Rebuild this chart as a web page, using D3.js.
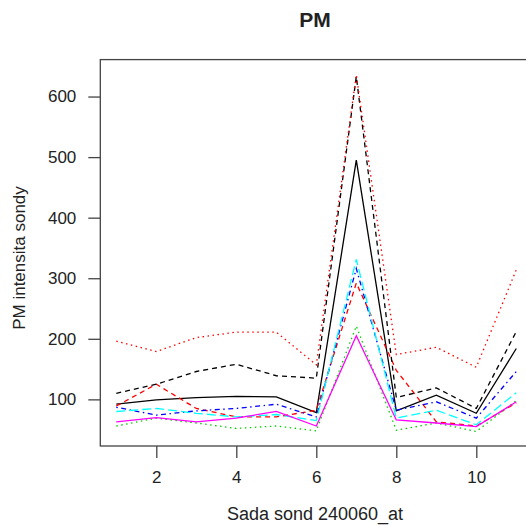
<!DOCTYPE html>
<html>
<head>
<meta charset="utf-8">
<script src="https://cdn.jsdelivr.net/npm/d3@7"></script>
<style>
  html, body { margin: 0; padding: 0; background: #fff; }
  svg text { font-family: "Liberation Sans", Arial, sans-serif; fill: #222; }
</style>
</head>
<body>
<svg id="chart" width="526" height="525"></svg>
<script>
const xValues = [1, 2, 3, 4, 5, 6, 7, 8, 9, 10, 11];
const s1 = [92, 99, 103, 105, 104, 78, 495, 81, 107, 77, 184];
const s2 = [89, 125, 85, 71, 71, 82, 292, 148, 63, 56, 94];
const s3 = [56, 69, 61, 52, 56, 48, 221, 49, 61, 47, 98];
const s4 = [87, 74, 81, 85, 92, 71, 316, 82, 96, 69, 146];
const s5 = [80, 85, 77, 71, 75, 65, 331, 69, 82, 58, 111];
const s6 = [63, 70, 63, 69, 80, 56, 205, 66, 61, 55, 96];
const s7 = [110, 125, 146, 158, 139, 135, 633, 103, 119, 85, 212];
const s8 = [196, 179, 202, 211, 211, 157, 636, 174, 186, 153, 314];
const seriesList = [s1, s2, s3, s4, s5, s6, s7, s8];
const seriesColors = ["#000000", "#FF0000", "#00CD00", "#0000FF", "#00FFFF", "#FF00FF", "#000000", "#FF0000"];
const seriesDash = ["none", "5,4", "1.5,3.5", "1.5,3.5,5,3.5", "9,4", "none", "5,4", "1.5,3.5"];
const xTicks = [2, 4, 6, 8, 10];
const yTicks = [100, 200, 300, 400, 500, 600];
const titleText = "PM";
const xLabel = "Sada sond 240060_at";
const yLabel = "PM intensita sondy";

(function () {
const svg = d3.select("#chart");
const pLeft = 100.3, pRight = 532.3, pTop = 59.6, pBottom = 446;
const x = d3.scaleLinear().domain([0.6, 11.4]).range([pLeft, pRight]);
const y = d3.scaleLinear().domain([23, 661]).range([pBottom, pTop]);

// lines
const line = d3.line().x((d, i) => x(xValues[i])).y(d => y(d));
seriesList.forEach((s, k) => {
  svg.append("path")
    .datum(s)
    .attr("d", line)
    .attr("fill", "none")
    .attr("stroke", seriesColors[k])
    .attr("stroke-width", 1.3)
    .attr("stroke-dasharray", seriesDash[k]);
});

// box
svg.append("rect")
  .attr("x", pLeft).attr("y", pTop)
  .attr("width", pRight - pLeft).attr("height", pBottom - pTop)
  .attr("fill", "none").attr("stroke", "#444").attr("stroke-width", 1.3);

// axes
const xAxis = svg.append("g").attr("transform", `translate(0,${pBottom})`)
  .call(d3.axisBottom(x).tickValues(xTicks).tickSize(12).tickPadding(13).tickFormat(d3.format("d")));
const yAxis = svg.append("g").attr("transform", `translate(${pLeft},0)`)
  .call(d3.axisLeft(y).tickValues(yTicks).tickSize(12).tickPadding(12).tickFormat(d3.format("d")));
[xAxis, yAxis].forEach(g => {
  g.select(".domain").remove();
  g.selectAll(".tick line").attr("stroke", "#444").attr("stroke-width", 1.3);
  g.selectAll(".tick text").attr("font-size", 17).attr("fill", "#222")
    .attr("font-family", "Liberation Sans, Arial, sans-serif");
});

// title and labels
svg.append("text").attr("x", 315).attr("y", 27).attr("text-anchor", "middle")
  .attr("font-size", 21).attr("font-weight", "bold").text(titleText);
svg.append("text").attr("x", 315).attr("y", 520).attr("text-anchor", "middle")
  .attr("font-size", 18).text(xLabel);
svg.append("text").attr("transform", "translate(25,258) rotate(-90)")
  .attr("text-anchor", "middle").attr("font-size", 17).text(yLabel);
})();
</script>
</body>
</html>
